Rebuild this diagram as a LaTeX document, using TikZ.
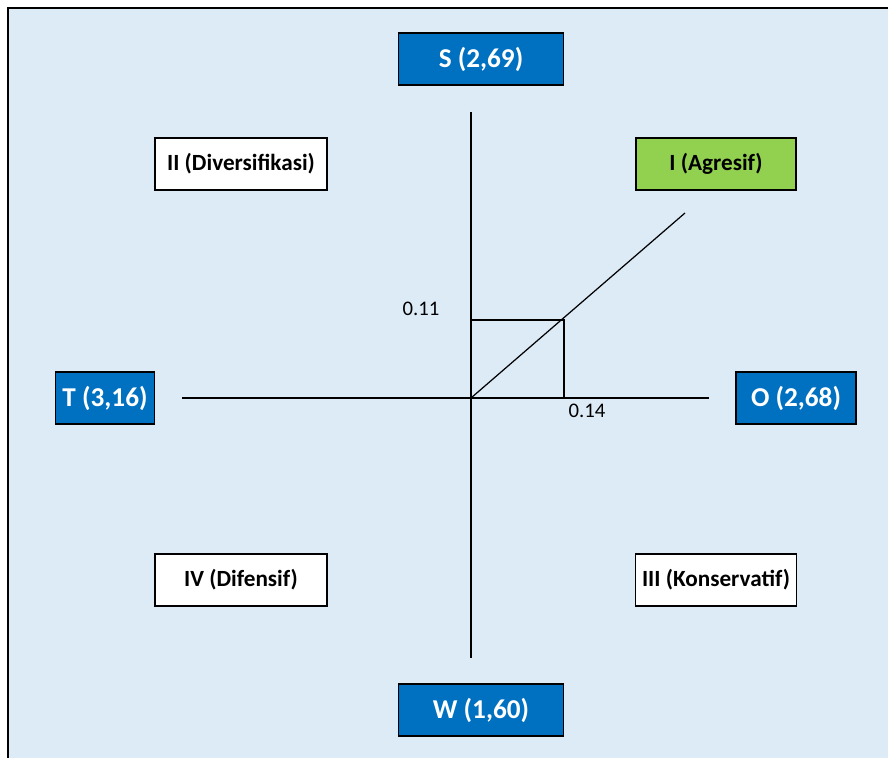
\documentclass[tikz,border=0pt]{standalone}
\usepackage{fontspec}
\setmainfont{Carlito}
\definecolor{bgblue}{HTML}{DDEBF7}
\definecolor{boxblue}{HTML}{0070C0}
\definecolor{boxgreen}{HTML}{92D050}

\newcommand{\pxscl}{0.02}
\newcommand{\px}[1] {#1*\pxscl}
\newcommand{\bluen}{\node[draw, line width=1.1pt, fill=boxblue, text=white, font=\bfseries\fontsize{15.5}{18}\selectfont, minimum height=\px{52}cm, inner sep=0pt]}
\newcommand{\quadn}{\node[draw, line width=0.9pt, fill=white, font=\bfseries\fontsize{13.2}{15}\selectfont, minimum height=\px{52}cm, inner sep=0pt]}
\newcommand{\valn}{\node[font=\fontsize{11.8}{14}\selectfont, inner sep=0pt]}

\begin{document}
\begin{tikzpicture}
            \useasboundingbox (0, 0) rectangle (\px{888}, -\px{758});
            \fill[white] (0, 0) rectangle (\px{888}, -\px{758});
            \fill[bgblue] (\px{8}, -\px{8}) rectangle (\px{888}, -\px{758});
            \draw[line width=1.2pt]
                (\px{8}, -\px{758}) -- (\px{8}, -\px{8}) -- (\px{888}, -\px{8});

            % centre and axis ends
            \coordinate (c) at (\px{471}, -\px{398});
            \coordinate (ax-n) at (\px{471}, -\px{112});
            \coordinate (ax-s) at (\px{471}, -\px{658});
            \coordinate (ax-w) at (\px{182}, -\px{398});
            \coordinate (ax-e) at (\px{709}, -\px{398});
            \coordinate (pt) at (\px{564}, -\px{320});
            \coordinate (pt-x) at (\px{564}, -\px{398});
            \coordinate (pt-y) at (\px{471}, -\px{320});
            \coordinate (diag) at (\px{685}, -\px{213});

            \bluen[minimum width=\px{165}cm] (s) at (\px{481}, -\px{59}) {S (2,69)};
            \bluen[minimum width=\px{165}cm] (w) at (\px{481}, -\px{710}) {W (1,60)};
            \bluen[minimum width=\px{99}cm] (t) at (\px{105}, -\px{398}) {T (3,16)};
            \bluen[minimum width=\px{120}cm] (o) at (\px{796}, -\px{398}) {O (2,68)};

            \quadn[minimum width=\px{160}cm, fill=boxgreen] (q1) at (\px{716}, -\px{164}) {I (Agresif)};
            \quadn[minimum width=\px{172}cm] (q2) at (\px{241}, -\px{164}) {II (Diversifikasi)};
            \quadn[minimum width=\px{161}cm] (q3) at (\px{716}, -\px{580}) {III (Konservatif)};
            \quadn[minimum width=\px{172}cm] (q4) at (\px{241}, -\px{580}) {IV (Difensif)};

            \valn (vy) at (\px{421}, -\px{309}) {0.11};
            \valn (vx) at (\px{587}, -\px{411}) {0.14};

            \draw[line width=1pt]
                (ax-n) -- (ax-s)
                (ax-w) -- (ax-e)
                ;

            \draw[line width=1pt]
                (pt-y) -- (pt) -- (pt-x)
                ;

            \draw[line width=0.7pt]
                (c) -- (diag);
        \end{tikzpicture}
\end{document}
